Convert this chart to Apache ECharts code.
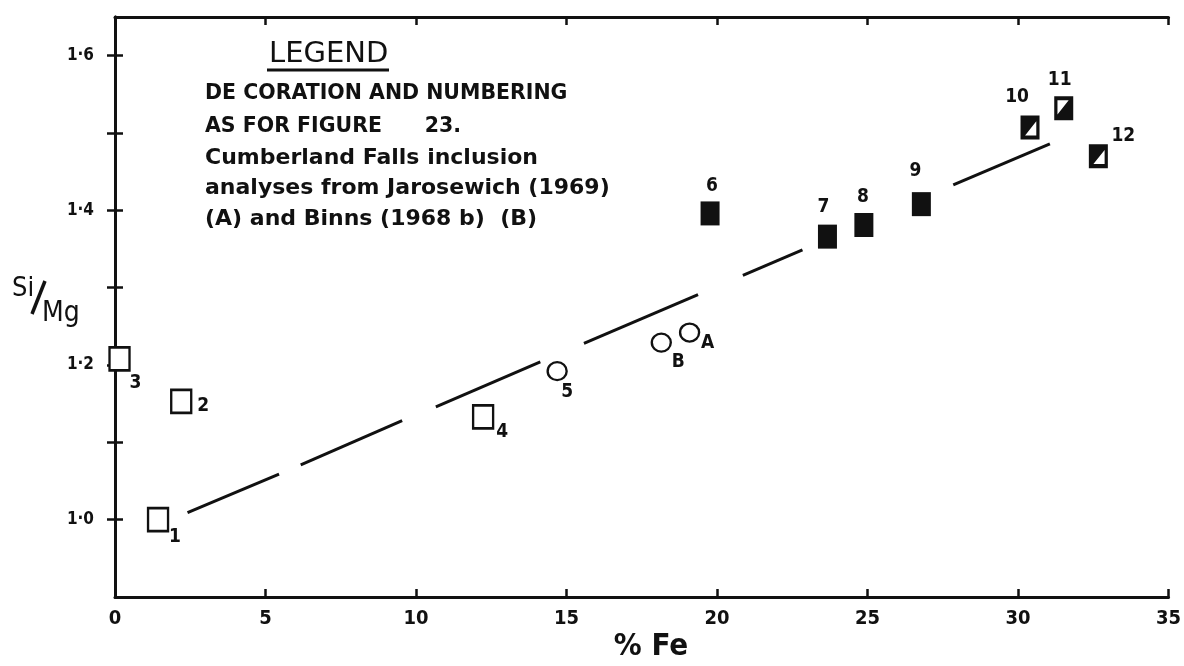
<!DOCTYPE html>
<html>
<head>
<meta charset="utf-8">
<script src="https://cdn.jsdelivr.net/npm/echarts@6/dist/echarts.min.js"></script>
<style>
  html, body { margin: 0; padding: 0; background: #fff; }
  #chart { width: 1184px; height: 666px; }
</style>
</head>
<body>
<div id="chart"></div>
<script>
// Si/Mg against % Fe for inclusions and Cumberland Falls analyses

// open squares (1-4)
const openLabels = ['1', '2', '3', '4'];
const openFe     = [1.43, 2.20, 0.15, 12.23];
const openSiMg   = [1.000, 1.153, 1.208, 1.133];

// open circles (5 and the Cumberland Falls analyses A, B)
const circleLabels = ['5', 'B', 'A'];
const circleFe     = [14.69, 18.15, 19.09];
const circleSiMg   = [1.192, 1.229, 1.242];

// solid squares (6-9)
const solidLabels = ['6', '7', '8', '9'];
const solidFe     = [19.77, 23.67, 24.88, 26.79];
const solidSiMg   = [1.396, 1.366, 1.381, 1.408];

// part-filled squares (10-12)
const halfLabels = ['10', '11', '12'];
const halfFe     = [30.40, 31.52, 32.67];
const halfSiMg   = [1.507, 1.532, 1.470];

// trend line, drawn as broken segments: start/end % Fe and Si/Mg of each piece
const trendFeStart   = [2.41, 6.17, 10.66, 15.58, 20.86, 27.85];
const trendFeEnd     = [5.45, 9.54, 14.13, 19.37, 22.84, 31.06];
const trendSiMgStart = [1.009, 1.071, 1.146, 1.228, 1.316, 1.433];
const trendSiMgEnd   = [1.059, 1.128, 1.204, 1.291, 1.349, 1.486];

// axis ticks and labels
const xTickStep    = 5;
const yTickValues  = [1.0, 1.1, 1.2, 1.3, 1.4, 1.5, 1.6];
const yLabelValues = [1.0, 1.2, 1.4, 1.6];
const yLabelText   = ['1·0', '1·2', '1·4', '1·6'];

const legendTitle = 'LEGEND';
const legendLines = [
  'DE CORATION AND NUMBERING',
  'AS FOR FIGURE      23.',
  'Cumberland Falls inclusion',
  'analyses from Jarosewich (1969)',
  '(A) and Binns (1968 b)  (B)'
];

// ---- styling ----
const INK = '#111';
const NARROW = '"DejaVu Sans Condensed", "Liberation Sans Narrow", "DejaVu Sans", sans-serif';
const WIDE = '"DejaVu Sans", "Noto Sans", sans-serif';

// where each point's number sits relative to its marker
const labelOffset = {
  '1': [17, 17], '2': [22, 5], '3': [16, 24], '4': [19, 15],
  '5': [10, 21], 'B': [17, 19], 'A': [18, 11],
  '6': [2, -27], '7': [-4, -30], '8': [-1, -28], '9': [-6, -33],
  '10': [-13, -31], '11': [-4, -28], '12': [25, -20]
};

const pathLowerRightWhite = 'path://M0,0L10,0L10,10L0,10Z M8.3,2.4L2.4,8.3L8.3,8.3Z';
const pathUpperLeftWhite  = 'path://M0,0L10,0L10,10L0,10Z M1.7,1.7L1.7,7.6L7.6,1.7Z';
const halfSymbol = { '10': pathLowerRightWhite, '11': pathUpperLeftWhite, '12': pathLowerRightWhite };

// legend line placement (baseline-middle y of each line) and fonts
const legendLineY = [94, 127, 158, 188, 219];
const legendLineFont = ['bold 20.5px ', 'bold 20.5px ', 'bold 22px ', 'bold 22px ', 'bold 22px '];

function pointData(labels, fe, r, extra) {
  return labels.map((n, i) => Object.assign({
    name: n,
    value: [fe[i], r[i]],
    label: { offset: labelOffset[n] }
  }, extra ? extra(n) : {}));
}

const pointLabel = {
  show: true,
  position: 'inside',
  formatter: '{b}',
  color: INK,
  fontFamily: NARROW,
  fontWeight: 'bold',
  fontSize: 19
};

const series = [];

trendFeStart.forEach((x0, i) => {
  series.push({
    type: 'line',
    data: [[x0, trendSiMgStart[i]], [trendFeEnd[i], trendSiMgEnd[i]]],
    symbol: 'none',
    lineStyle: { color: INK, width: 3 },
    silent: true,
    z: 1
  });
});

series.push({
  type: 'scatter',
  data: pointData(openLabels, openFe, openSiMg),
  symbol: 'rect',
  symbolSize: [20, 23],
  itemStyle: { color: '#fff', borderColor: INK, borderWidth: 2.5, opacity: 1 },
  label: pointLabel,
  z: 3
});

series.push({
  type: 'scatter',
  data: pointData(circleLabels, circleFe, circleSiMg),
  symbol: 'circle',
  symbolSize: [19, 18],
  itemStyle: { color: '#fff', borderColor: INK, borderWidth: 2.3, opacity: 1 },
  label: pointLabel,
  z: 3
});

series.push({
  type: 'scatter',
  data: pointData(solidLabels, solidFe, solidSiMg),
  symbol: 'rect',
  symbolSize: [19, 24],
  itemStyle: { color: INK, opacity: 1 },
  label: pointLabel,
  z: 3
});

series.push({
  type: 'scatter',
  data: pointData(halfLabels, halfFe, halfSiMg, n => ({ symbol: halfSymbol[n] })),
  symbolSize: [19, 24],
  itemStyle: { color: INK, opacity: 1 },
  label: pointLabel,
  z: 3
});

const axisLineStyle = { color: INK, width: 3 };
const tickStyle = { show: true, inside: true, length: 8, lineStyle: { color: INK, width: 2.5 } };

const chart = echarts.init(document.getElementById('chart'), null, { renderer: 'canvas' });
chart.setOption({
  backgroundColor: '#fff',
  animation: false,
  grid: { left: 115, right: 9, top: 17, bottom: 69, containLabel: false },
  xAxis: [
    {
      type: 'value', min: 0, max: 35, interval: xTickStep, position: 'bottom',
      axisLine: { show: true, lineStyle: axisLineStyle },
      axisTick: tickStyle,
      splitLine: { show: false },
      axisLabel: {
        margin: 12, color: INK, fontFamily: NARROW, fontWeight: 'bold', fontSize: 20
      }
    },
    {
      type: 'value', min: 0, max: 35, interval: xTickStep, position: 'top',
      axisLine: { show: true, lineStyle: axisLineStyle },
      axisTick: tickStyle,
      splitLine: { show: false },
      axisLabel: { show: false }
    }
  ],
  yAxis: [
    {
      type: 'value', min: 0.9, max: 1.65, position: 'left',
      axisLine: { show: true, lineStyle: axisLineStyle },
      axisTick: Object.assign({}, tickStyle, { customValues: yTickValues }),
      splitLine: { show: false },
      axisLabel: {
        customValues: yLabelValues,
        formatter: v => yLabelText[yLabelValues.findIndex(t => Math.abs(t - v) < 1e-6)] || '',
        margin: 21, color: INK, fontFamily: NARROW, fontWeight: 'bold', fontSize: 17
      }
    },
    {
      type: 'value', min: 0.9, max: 1.65, position: 'right',
      axisLine: { show: true, lineStyle: axisLineStyle },
      axisTick: Object.assign({}, tickStyle, { customValues: yTickValues }),
      splitLine: { show: false },
      axisLabel: { show: false }
    }
  ],
  graphic: [
    // axis titles
    { type: 'text', x: 651, y: 647, style: { text: '% Fe', fill: INK, font: 'bold 31px ' + NARROW, align: 'center', verticalAlign: 'middle' } },
    { type: 'text', x: 12, y: 275, style: { text: 'Si', fill: INK, font: '27px ' + NARROW } },
    { type: 'line', shape: { x1: 45, y1: 281, x2: 32, y2: 314 }, style: { stroke: INK, lineWidth: 3.5 } },
    { type: 'text', x: 42, y: 300, style: { text: 'Mg', fill: INK, font: '28px ' + NARROW } },
    // legend block
    { type: 'text', x: 269, y: 54, style: { text: legendTitle, fill: INK, font: '29px ' + WIDE, verticalAlign: 'middle' } },
    { type: 'line', shape: { x1: 267, y1: 70, x2: 389, y2: 70 }, style: { stroke: INK, lineWidth: 3 } }
  ].concat(legendLines.map((t, i) => ({
    type: 'text', x: 205, y: legendLineY[i],
    style: { text: t, fill: INK, font: legendLineFont[i] + WIDE, verticalAlign: 'middle' }
  }))),
  series: series
});
</script>
</body>
</html>
